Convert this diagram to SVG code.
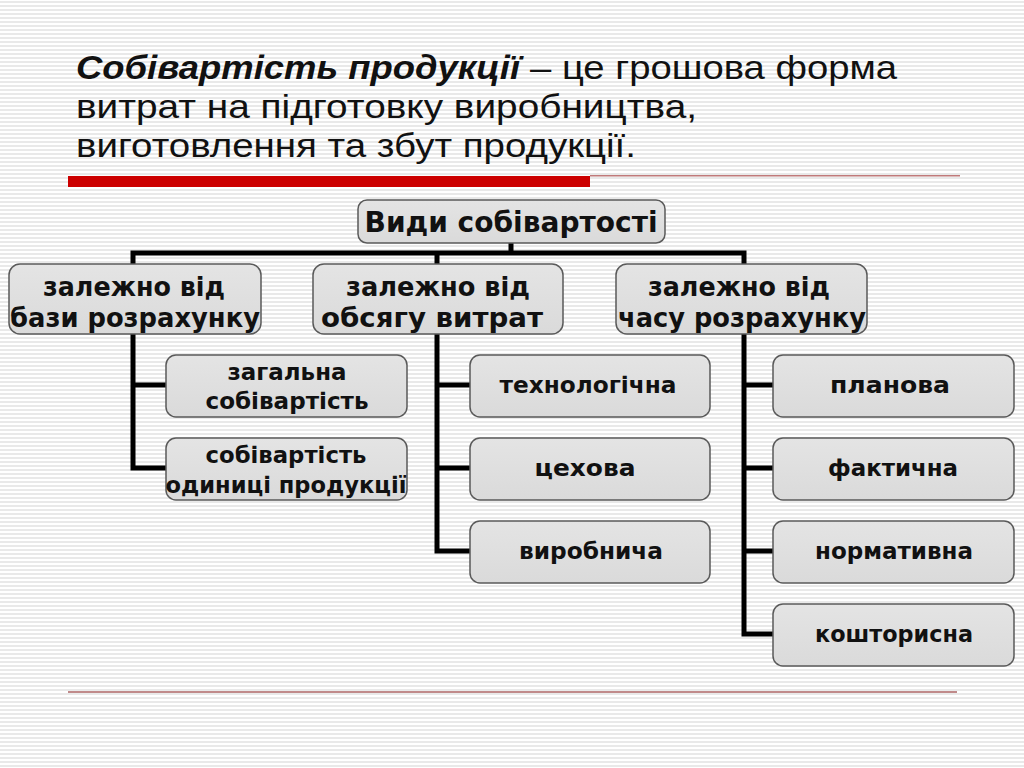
<svg xmlns="http://www.w3.org/2000/svg" width="1024" height="768" viewBox="0 0 1024 768">
<defs>
<pattern id="stripes" x="0" y="0" width="8" height="4" patternUnits="userSpaceOnUse">
<rect x="0" y="0" width="8" height="4" fill="#ffffff"/>
<rect x="0" y="1" width="8" height="2" fill="#e9e9e9"/>
</pattern>
<linearGradient id="boxg" x1="0" y1="0" x2="0" y2="1">
<stop offset="0" stop-color="#e4e4e4"/>
<stop offset="1" stop-color="#dadada"/>
</linearGradient>
</defs>
<style>
.box{fill:url(#boxg);stroke:#5a5a5a;stroke-width:1.5}
.t{font-family:"DejaVu Sans","Verdana",sans-serif;font-weight:bold;fill:#111;text-anchor:middle}
.c1{font-size:23.5px}
.c2{font-size:26.5px}
.c0{font-size:28px}
.title{font-family:"Liberation Sans",Arial,sans-serif;font-size:33px;fill:#111}
.conn{fill:none;stroke:#000;stroke-width:5;stroke-linejoin:miter}
</style>
<rect x="0" y="0" width="1024" height="768" fill="url(#stripes)"/>

<g id="title">
<text class="title" x="76" y="79" font-weight="bold" font-style="italic" textLength="444" lengthAdjust="spacingAndGlyphs">Собівартість продукції</text>
<text class="title" x="530" y="79" textLength="367" lengthAdjust="spacingAndGlyphs">– це грошова форма</text>
<text class="title" x="76" y="118" textLength="621" lengthAdjust="spacingAndGlyphs">витрат на підготовку виробництва,</text>
<text class="title" x="76" y="157" textLength="560" lengthAdjust="spacingAndGlyphs">виготовлення та збут продукції.</text>
</g>

<g id="rules">
<rect x="68" y="176" width="522" height="11" fill="#cc0000"/>
<rect x="590" y="175" width="370" height="1.5" fill="#c07a7a"/>
<rect x="68" y="691" width="889" height="2" fill="#c08a8a"/>
</g>

<g id="connectors">
<path class="conn" d="M511 243 V253 M133 264 V253 H744 V264 M437 253 V264"/>
<path class="conn" d="M133 334 V468 H166 M133 385 H166"/>
<path class="conn" d="M437 334 V551 H470 M437 385 H470 M437 468 H470"/>
<path class="conn" d="M744 334 V634 H773 M744 385 H773 M744 468 H773 M744 551 H773"/>
</g>

<g id="root">
<rect class="box" x="358" y="200" width="307" height="43" rx="9"/>
<text class="t c0" x="511" y="232" textLength="293" lengthAdjust="spacingAndGlyphs">Види собівартості</text>
</g>

<g id="n-base">
<rect class="box" x="9" y="264" width="252" height="70" rx="11"/>
<text class="t c2" x="134" y="296" textLength="182" lengthAdjust="spacingAndGlyphs">залежно від</text>
<text class="t c2" x="135" y="327" textLength="250" lengthAdjust="spacingAndGlyphs">бази розрахунку</text>
</g>
<g id="n-volume">
<rect class="box" x="313" y="264" width="250" height="70" rx="11"/>
<text class="t c2" x="438" y="296" textLength="184" lengthAdjust="spacingAndGlyphs">залежно від</text>
<text class="t c2" x="432" y="327" textLength="222" lengthAdjust="spacingAndGlyphs">обсягу витрат</text>
</g>
<g id="n-time">
<rect class="box" x="616" y="264" width="251" height="70" rx="11"/>
<text class="t c2" x="739" y="296" textLength="182" lengthAdjust="spacingAndGlyphs">залежно від</text>
<text class="t c2" x="742" y="327" textLength="248" lengthAdjust="spacingAndGlyphs">часу розрахунку</text>
</g>

<g id="n-total">
<rect class="box" x="166" y="355" width="241" height="62" rx="10"/>
<text class="t c1" x="287" y="380" textLength="119" lengthAdjust="spacingAndGlyphs">загальна</text>
<text class="t c1" x="287" y="409" textLength="163" lengthAdjust="spacingAndGlyphs">собівартість</text>
</g>
<g id="n-unit">
<rect class="box" x="166" y="438" width="241" height="62" rx="10"/>
<text class="t c1" x="286" y="463" textLength="161" lengthAdjust="spacingAndGlyphs">собівартість</text>
<text class="t c1" x="286" y="493" textLength="241" lengthAdjust="spacingAndGlyphs">одиниці продукції</text>
</g>

<g id="n-tech">
<rect class="box" x="470" y="355" width="240" height="62" rx="10"/>
<text class="t c1" x="588" y="393" textLength="177" lengthAdjust="spacingAndGlyphs">технологічна</text>
</g>
<g id="n-shop">
<rect class="box" x="470" y="438" width="240" height="62" rx="10"/>
<text class="t c1" x="585" y="476" textLength="101" lengthAdjust="spacingAndGlyphs">цехова</text>
</g>
<g id="n-prod">
<rect class="box" x="470" y="521" width="240" height="62" rx="10"/>
<text class="t c1" x="591" y="559" textLength="144" lengthAdjust="spacingAndGlyphs">виробнича</text>
</g>

<g id="n-plan">
<rect class="box" x="773" y="355" width="241" height="62" rx="10"/>
<text class="t c1" x="890" y="393" textLength="120" lengthAdjust="spacingAndGlyphs">планова</text>
</g>
<g id="n-fact">
<rect class="box" x="773" y="438" width="241" height="62" rx="10"/>
<text class="t c1" x="893" y="476" textLength="130" lengthAdjust="spacingAndGlyphs">фактична</text>
</g>
<g id="n-norm">
<rect class="box" x="773" y="521" width="241" height="62" rx="10"/>
<text class="t c1" x="894" y="559" textLength="158" lengthAdjust="spacingAndGlyphs">нормативна</text>
</g>
<g id="n-est">
<rect class="box" x="773" y="604" width="241" height="62" rx="10"/>
<text class="t c1" x="894" y="642" textLength="158" lengthAdjust="spacingAndGlyphs">кошторисна</text>
</g>
</svg>
